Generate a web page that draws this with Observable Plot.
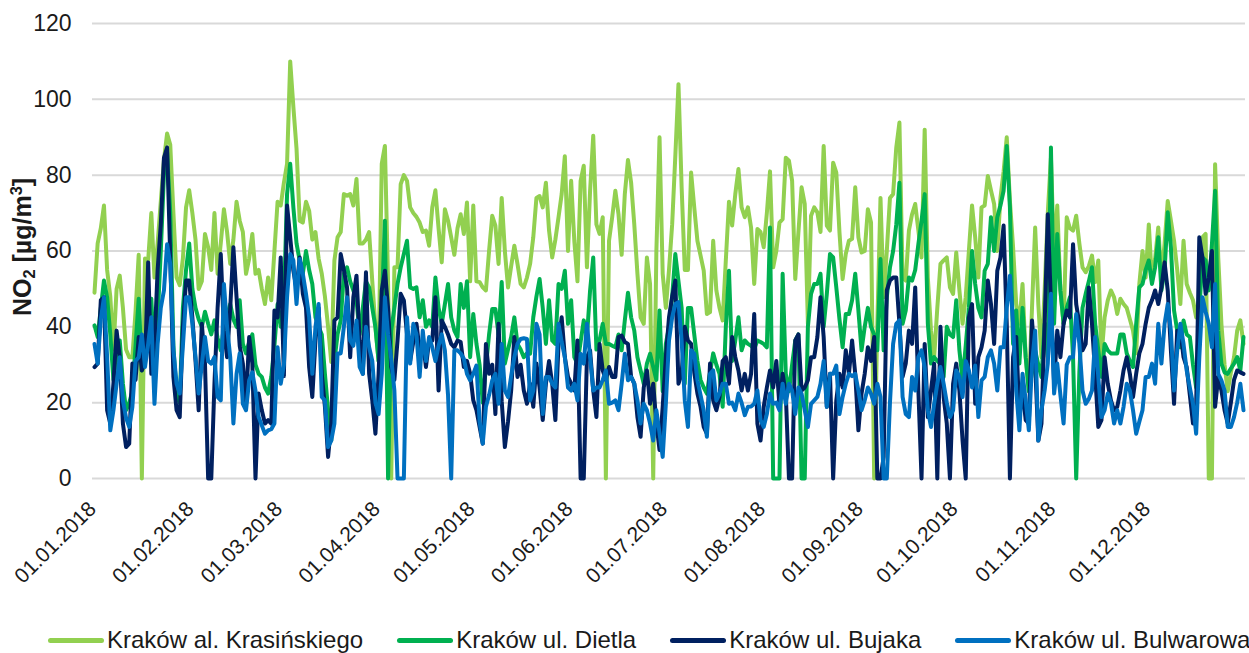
<!DOCTYPE html>
<html>
<head>
<meta charset="utf-8">
<script src="https://cdn.jsdelivr.net/npm/d3@7"></script>
<script src="https://cdn.jsdelivr.net/npm/@observablehq/plot@0.6"></script>
<style>
  html, body { margin: 0; padding: 0; background: #ffffff; }
  body { width: 1249px; height: 653px; overflow: hidden; position: relative; font-family: "Liberation Sans", Arial, sans-serif; }
  #legend { position: absolute; top: 625px; left: 48px; display: flex; align-items: center; font-size: 24px; line-height: 30px; color: #1a1a1a; white-space: nowrap; }
  .item { display: flex; align-items: center; margin-right: 34px; }
  .swatch { width: 56px; height: 5px; border-radius: 3px; margin-right: 3px; }
</style>
</head>
<body>
<div id="chart"></div>
<div id="legend"></div>
<script>
// Daily NO2 concentrations 2018 (µg/m³), one value per day from 01.01 to 31.12
const seriesNames = ["Kraków al. Krasińskiego", "Kraków ul. Dietla", "Kraków ul. Bujaka", "Kraków ul. Bulwarowa"];
const seriesColors = ["#92D050", "#00B050", "#002060", "#0070C0"];

const krasinskiego = [
  49,62,66,72,55,48,34,50,53.5,45,34,32,32,44,59,0,58,57.5,70,53,62,73,84,91,88,70,53,51,58,71.5,76,
  70,63,50,52,64.5,61,55,70,54,62,71,65,56.6,63,73,68,65,54,58,64.5,54,55,50,46,53,47,60,73,
  72,78,83,110,98,87,68,67.5,73,70.6,63,65,58,54,48,40,30.7,57.5,63.6,65,75,74.6,75,72,79,62,62,63,65,52,40,
  31,83,87.7,52,0,55.7,55.7,77.6,80,78.5,71.5,70,69,67.5,65,65.4,61.4,71.5,76,66,57,71,68,63.6,59,66,69.7,64.5,72.8,52,
  72,52,51.8,50.4,49.6,60,69.3,66.7,56.6,74,60,50.4,56,61.4,56.6,51.3,50.4,53,56.6,63.6,74,74.5,71.5,78,65.4,58.3,63,68.9,75,85,60,
  78.5,62.7,52,78.5,82.5,55.7,75.9,90.4,67,64.5,68.9,0,62.7,68.9,75.9,69.7,59,75,84,78,67,54,42.5,40.8,58.3,51.3,0,60,90,54,
  45,55,67,85,104,76.8,55,55,80.7,71.5,62.7,58.8,54.8,43.4,43.9,62.7,49.6,45,41.7,57.5,73,66.7,75,81.6,71.5,68.9,71.5,66.2,51.3,65.8,65,
  61,70,81,55.7,60,67.5,68.4,84.6,83.8,78.5,52.6,65,76.8,72.4,40.8,69.3,71.5,70.2,65,87.7,66.7,65.4,83.3,80.7,65,52.6,59.2,62.7,63.2,76.8,63.6,
  59.6,60,71,67.5,0,40.8,74,47.8,60,74,75,87.3,93.9,53,52.2,65.4,69.7,72.4,65.4,58.3,92,53,39,32,45,56.6,57.5,58.3,50.4,48.7,
  59.6,49.6,40.8,47.8,60,72,63.6,53,71.5,72,79.8,76,72.4,60,74,81,90,73.2,61,46,40.8,51.3,32,23,45,66.2,46,32,49.6,70,84.6,
  58.3,72,49.6,40.8,68.9,66,65.4,69.3,62,55.7,54.4,56,58.8,51.8,57.5,32,42.5,47,49.6,47.8,43.4,47.4,46,45,42,39,33,51.3,60,53,
  67,52.2,58,66.2,53,62,73.2,68,62.7,55,46,62.7,51.3,49,47,42.5,47.8,63.6,64.5,0,0,82.9,58.3,40.8,30,23,28,32,39,41.7,35.5
];

const dietla = [
  40.4,37.3,45,52.2,47.8,38,26,32,36.4,25,18,20,23,35,47.4,28.5,35,40.8,47.4,30.3,42,60,80,86,70,35,22,20,45,55,62,
  50,45,42,40,44,40.8,38,41.7,37,33.8,40,43,46,42,40,47,35.5,33,36,38,30,27.6,26.8,24,22.4,26.8,35,46,
  40,47,75,83,71.5,62,57.5,54,60,55,51.3,42.5,40,38,27.6,18,10,31,38,41.7,54,55.7,52,49.6,47,38,45,52,50.4,45,39.9,
  31,45,68,0,39,45,51.3,55.7,59.2,62.7,50.4,50,50.4,42.5,47,40,41.7,40,53,45,40.8,46,51.3,42.5,39,37.3,51.3,45,52,32,
  43.4,35.5,30,20,29.4,38,44.7,44.7,38,51.8,30.3,34,37.3,42.5,35.5,34,32,33,32.9,42.5,48,52.6,45,35.5,47,36.4,35.5,51.3,50,54.8,40.8,
  47,32,30.3,36,41.7,37.3,49.6,58.3,34,36.4,40.8,35.5,35.5,35,34.6,38,33.8,41.7,49,42.5,39,32,28.5,25,30.3,32.9,29.4,26,44.3,23,
  35.5,40,47.8,59.2,52,45,25,45,45,38,31,26,24,22.4,28,33,30,27.6,18.9,40,54.8,31,36.4,42.5,33.8,36.4,35.5,35,34.2,36.4,36,
  35.5,34.6,66.2,0,0,0,54,27.6,23,30,36.4,38,0,0,40,48.7,51.3,51.3,54,40,48.7,59.2,58.3,50.4,42,34.6,43.4,43.4,47,54,44.3,
  33.8,40,45,40,38,33.8,57.9,33.8,47.8,55.7,60,67,78,40.8,44.3,53,52.2,55,61.8,68,75,40.8,30.3,32,31,30.3,26.8,40,38,37.3,
  47,33.8,26,35,45,60,51.3,45,42.5,54.8,56.6,68.9,60,68.9,72,75.9,87.7,71.5,35.5,44.3,30.3,45,32,23,28,33.8,30,26.8,40.8,32,87.3,
  40.8,64.5,49.6,40.8,45,47.8,32,0,28,45,48.7,52,55.7,40.8,33.8,26.8,35.5,33.8,33,33,33,38,38,33,31,29.4,40.8,50.4,51.3,55,
  57.5,51.3,55.7,63.6,49.6,54.8,70.2,61,44.3,39,34.6,41.7,38,37.3,30,24,44.3,58.3,57.5,49.6,61.8,75.9,39,30.3,28,27.6,29,30.3,32,28.5,37.3
];

const bujaka = [
  29.4,30.3,47,47.8,18,14.5,25,39,32,14.5,8.3,9.2,30.3,26,37.3,28.5,30.3,57,27.6,35.5,55,67,84.6,87.3,58.3,26.8,18,16.2,40,52.2,52.2,
  42.5,31,18,40.8,30.3,0,0,25,45,59.2,39,32,45,61,47.8,35,30.3,19.7,37.3,30.3,0,22.4,18,14.5,15.4,14.5,44.3,42.5,
  58.3,27,72,63.6,54.8,50,58.3,48.7,45,29.4,21.5,36.4,45,27.6,18.9,5.7,14.5,41.7,42.5,59.2,55,50.4,32,47.8,53.5,36.4,27.6,54.4,27.6,20.6,11.8,
  27.6,49.6,54.8,45,29.4,26,36.4,48.7,47,38,31,36,40.8,33.8,36.4,29.4,36.4,36.4,47.8,23.2,41.7,40,38,35.5,34.6,36.4,36,29.4,31,27.6,
  20.6,18,13.6,9.2,35.5,27.6,30,17,40.8,20.4,8.3,15,23.2,37.3,26.8,30,23.2,19.7,25,18.9,30.3,24,15.4,25,31,25,15.4,35.5,42.5,32,26.8,
  25,23.2,36.4,0,0,32,33.8,23.2,16.2,35.5,28.5,26,29.4,26.8,26.8,37.3,37.7,36,35.5,26.8,25,16.2,11,24,28.5,19.7,25,14.5,7.5,18.9,
  32,42.5,48,52.2,25,27.6,40,36.4,35.5,28,22.4,18.9,13.6,11.8,30.3,20.6,18,21.5,31,32,25,37.3,32,28.5,23.2,27.6,23.2,27.6,43.4,14.5,10,
  18.9,24,28.5,24,31,18.9,27.6,22.4,0,0,36.4,38,23.2,24,25.9,32,32,37.3,47.8,37.3,18.9,27.6,0,20.6,27.6,24,33.8,27.6,36.4,27.6,12.7,
  22.4,27.6,34.6,31,37.3,0,0,5.7,49.6,52.2,53,53,40.8,26.8,30.3,39,35.5,50.4,23.2,0,35.5,16.2,23.2,30.3,0,40,21.5,14.5,0,25,
  30.3,23.2,10,0,42.5,46,19.7,32,34.6,39,52.2,46,35.5,54.8,58.3,66.7,40.8,0,32,37.3,16.2,23.2,15.4,14.5,41.7,30.3,10,14.5,40.8,69.7,46,
  25,39,32,40.8,44.3,42.5,61.8,46,40.8,33.8,35.5,50.4,40.8,27.6,13.6,15.4,32,25,20.6,18,18.9,23.2,28.5,32,27.6,21.5,27.6,33,35.5,40.8,
  45,47,49.6,46,50.4,57,49.6,33.8,19.7,39,39,32,29.4,22,14.5,18.9,63.6,58.3,48.7,53,60,18.9,26.8,23.2,18,14.5,20,26,28.5,28,27.6
];

const bulwarowa = [
  35.5,30.3,42,47.8,32,12.7,18,25,32,20.6,16,13.6,18.9,31,32,38,29.4,35.5,42.5,19.7,35.5,45,49.6,61.8,56.6,33.8,25,22.4,35,47.8,47.8,
  40.8,32,22.4,30,37.3,31,30.3,32,21.5,20.6,51.3,40,32,14.5,27.6,33,19.7,18,25.9,28,23.2,16.2,14,11.8,12.7,13,14.5,34.6,
  25,30,47.8,59.2,57.5,46,57.9,54,48.7,42.5,27.6,40,46,21.5,20.6,8.3,10,14.5,33,33,40,47.8,36.4,35,41.7,29.4,27.6,40,34.6,31,20,
  17,27.6,47.8,38,31.6,23.2,0,0,0,42.5,30.3,40.8,38,26.8,39,31,37.3,34.6,31,35,38,33.8,22,0,33.8,33.8,33,31.6,27.6,25.9,
  27.6,29.8,15,9.2,18.9,22,25.9,27.6,19.7,35.5,23.2,21.5,27,32,35.5,36.8,37,36.8,20.6,23.2,40.8,38,17,26.8,26.8,25,24,40.8,36,32,24,
  23.2,25,20.6,32.9,30.3,40.8,32,23.2,24,24,26,28.5,19.7,20,20.6,18,25,32.9,25.9,26.8,25,20.6,14.5,19.7,18,14.5,10,18,12,5.7,
  19.7,36.4,42.5,46,46.5,36.4,20.6,13.6,33.8,32.9,25.9,22,18,11,27.6,28.5,20.6,22.4,25,25,19.7,20,18,22.4,20,16.7,18.9,19,19.7,23.2,15.4,
  13.6,17,22.4,19.7,20,18,25,19.7,25,23.2,17,24,22.4,18,13.6,19.7,20.6,21.5,25,31,18.9,27.6,27.6,29.8,17,21.5,25,27.6,27,27.6,23.2,
  18,20.6,24,22.4,19.7,25,21.5,0,0,20,35.5,40.8,41.7,21.5,17,16.2,26.8,23.2,32,33.8,29.4,18,13.6,19.7,25,29.4,25,20,16.2,18,
  28.5,26.8,21.5,31,28.5,24,29.8,16.2,25.9,26.8,32,33.8,30.3,23.2,34.6,34.6,45,53.5,40.8,23.2,12.7,27.6,20.6,12.7,30.3,39,10,18,23.2,30.3,48.7,
  22.4,30.3,22,14.5,30,32,32,43.4,35.5,23.2,19.7,21,23.2,37.3,26.8,16.2,18,22.4,20,14.5,18,14.5,18.9,25,23.2,18,11.8,15,18,26.8,
  26.8,30.3,25,40.8,30.3,40.8,46,39,23.2,33.8,40.8,35.5,28.5,24,19.7,11.8,32,47.8,44,40.8,34.6,51.3,27.6,25.9,23.2,13.6,13.6,16.2,20,25,18
];

const yTicks = [0, 20, 40, 60, 80, 100, 120];
const monthLabels = ["01.01.2018","01.02.2018","01.03.2018","01.04.2018","01.05.2018","01.06.2018",
                     "01.07.2018","01.08.2018","01.09.2018","01.10.2018","01.11.2018","01.12.2018"];
// y-axis title pieces: [text, position] (sub = subscript, sup = superscript)
const yTitleParts = [["NO", ""], ["2", "sub"], [" [µg/m", ""], ["3", "sup"], ["]", ""]];
const yTitle = yTitleParts.map(p => p[0]).join("");

const start = new Date(Date.UTC(2018, 0, 1));
const end = new Date(Date.UTC(2018, 11, 31));
const monthDates = monthLabels.map(s => {
  const [dd, mm, yy] = s.split(".").map(Number);
  return new Date(Date.UTC(yy, mm - 1, dd));
});
const labelOf = new Map(monthDates.map((d, i) => [+d, monthLabels[i]]));

const rows = [];
[krasinskiego, dietla, bujaka, bulwarowa].forEach((arr, i) => {
  arr.forEach((v, d) => rows.push({date: new Date(start.getTime() + d * 864e5), value: v, series: seriesNames[i]}));
});

const chart = Plot.plot({
  width: 1249,
  height: 600,
  marginLeft: 92,
  marginRight: 4,
  marginTop: 23,
  marginBottom: 122,
  style: {fontFamily: "'Liberation Sans', Arial, sans-serif", background: "#ffffff", color: "#1a1a1a"},
  x: {type: "utc", domain: [start, end], inset: 2},
  y: {domain: [0, 120]},
  color: {domain: seriesNames, range: seriesColors},
  marks: [
    Plot.gridY(yTicks, {stroke: "#d9d9d9", strokeOpacity: 1, strokeWidth: 2}),
    Plot.axisY(yTicks, {tickSize: 0, tickPadding: 21, fontSize: 23, label: null}),
    Plot.axisX(monthDates, {tickSize: 0, tickPadding: 27, tickRotate: -45, fontSize: 21, dx: -2,
      tickFormat: d => labelOf.get(+d), label: null}),
    Plot.lineY(rows, {x: "date", y: "value", stroke: "series", strokeWidth: 4,
      strokeLinejoin: "round", strokeLinecap: "round"}),
    Plot.text([yTitle], {frameAnchor: "left", textAnchor: "middle", rotate: -90, dx: -70, dy: -4,
      fontSize: 25, fontWeight: "bold", fill: "#1a1a1a"})
  ]
});
document.getElementById("chart").appendChild(chart);

// Render sub/superscripts of the y-axis title as real text tspans
d3.select(chart).selectAll("text").filter(function () { return this.textContent === yTitle; })
  .each(function () {
    const t = d3.select(this);
    t.text(null);
    yTitleParts.forEach(([txt, pos]) => {
      const s = t.append("tspan").text(txt);
      if (pos === "sub") s.attr("font-size", "65%").attr("baseline-shift", "-22%");
      if (pos === "sup") s.attr("font-size", "65%").attr("baseline-shift", "55%");
    });
  });

const legend = d3.select("#legend");
seriesNames.forEach((name, i) => {
  const item = legend.append("div").attr("class", "item");
  item.append("div").attr("class", "swatch").style("background", seriesColors[i]);
  item.append("span").text(name);
});
</script>
</body>
</html>
